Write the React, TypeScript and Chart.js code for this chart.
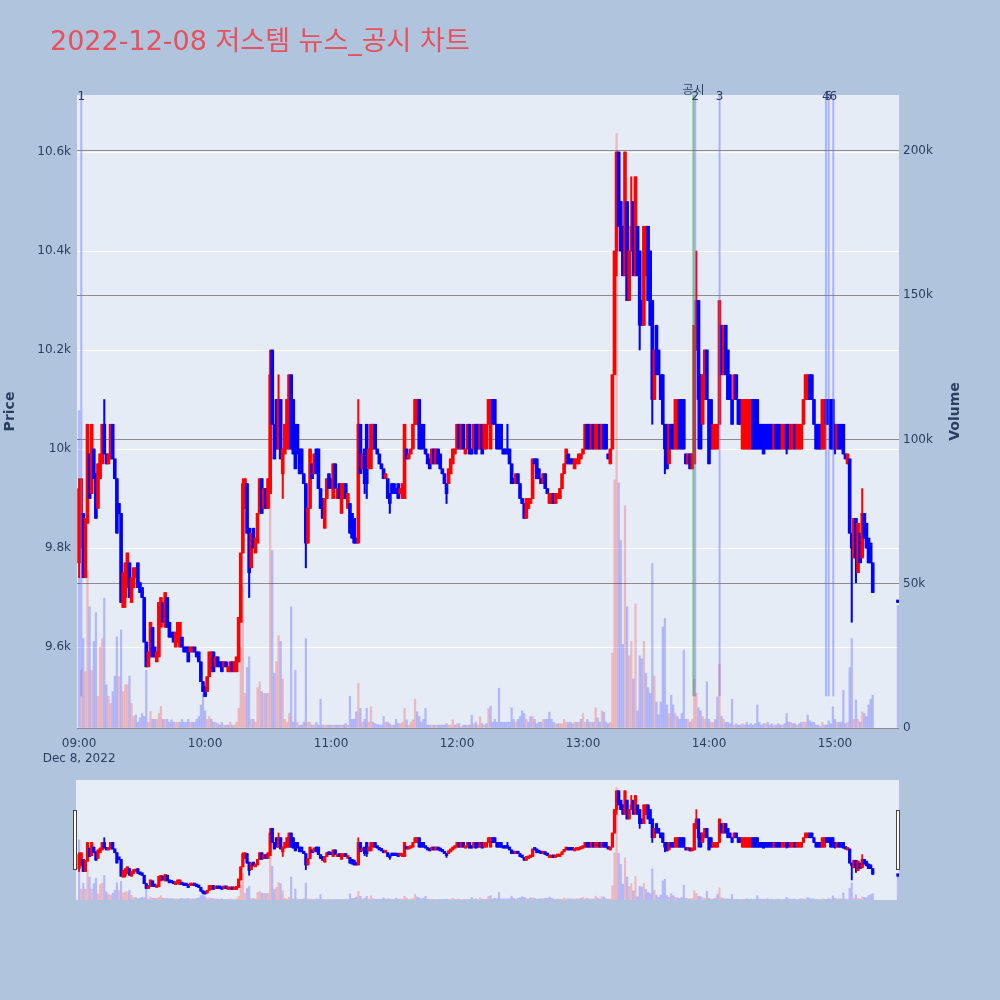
import React, { useEffect, useRef } from 'react';
import { Chart, registerables } from 'chart.js';

Chart.register(...registerables);

// ---------- data (minute 0 = 09:00) ----------
const opens: number[] = [
  9770, 9800, 9870, 9740, 9850, 9990, 9910, 10000, 9950, 9880,
  9940, 9970, 10050, 9990, 9970, 9980, 10050, 9980, 9940, 9890,
  9870, 9680, 9700, 9720, 9770, 9690, 9720, 9740, 9770, 9730,
  9720, 9700, 9610, 9560, 9580, 9640, 9600, 9570, 9580, 9640,
  9690, 9640, 9700, 9650, 9630, 9630, 9600, 9610, 9600, 9620,
  9600, 9600, 9600, 9590, 9590, 9600, 9590, 9590, 9570, 9530,
  9520, 9510, 9540, 9550, 9590, 9560, 9580, 9570, 9570, 9560,
  9570, 9550, 9550, 9570, 9550, 9550, 9570, 9650, 9790, 9880,
  9930, 9840, 9760, 9840, 9790, 9810, 9870, 9940, 9880, 9920,
  9880, 9910, 10200, 10050, 10100, 10000, 10100, 9950, 9990, 10000,
  10000, 10150, 10100, 10050, 10050, 10000, 10000, 9950, 9930, 9810,
  9880, 9970, 9950, 10000, 10000, 9920, 9900, 9840, 9900, 9950,
  9940, 9900, 9970, 9900, 9930, 9870, 9900, 9930, 9880, 9890,
  9870, 9860, 9820, 9810, 10050, 9960, 10000, 10050, 9960, 9960,
  10000, 10050, 10000, 9990, 9970, 9960, 9940, 9940, 9910, 9930,
  9930, 9920, 9930, 9910, 9900, 9900, 10000, 9980, 9990, 10000,
  10050, 10050, 10100, 10050, 10050, 10000, 9990, 9980, 9970, 10000,
  9970, 10000, 9990, 9960, 9950, 9930, 9930, 9950, 9970, 9990,
  10000, 10050, 10000, 10050, 9990, 10000, 10050, 10000, 10000, 10050,
  10050, 10000, 10050, 10000, 10000, 10050, 10000, 10100, 10100, 10050,
  10050, 10050, 10000, 10000, 10000, 10000, 9970, 9940, 9930, 9950,
  9930, 9900, 9890, 9860, 9880, 9890, 9900, 9980, 9980, 9960,
  9940, 9930, 9950, 9920, 9890, 9890, 9910, 9890, 9900, 9900,
  9920, 9950, 9970, 9990, 9980, 9980, 9960, 9970, 9970, 9980,
  9990, 10000, 10050, 10050, 10000, 10050, 10000, 10000, 10050, 10000,
  10050, 10050, 9990, 9970, 10000, 10150, 10400, 10600, 10500, 10450,
  10350, 10500, 10300, 10400, 10500, 10350, 10450, 10400, 10300, 10250,
  10350, 10450, 10400, 10300, 10100, 10250, 10200, 10150, 10150, 10050,
  10050, 9970, 10050, 10050, 10000, 10000, 10100, 10100, 10100, 9990,
  9970, 9990, 9960, 9970, 10200, 10300, 10150, 10050, 10100, 10200,
  10100, 10100, 10000, 10000, 10000, 10050, 10250, 10150, 10250, 10200,
  10150, 10100, 10100, 10150, 10100, 10100, 10000, 10000, 10000, 10000,
  10000, 10100, 10100, 10100, 10050, 10050, 10050, 10050, 10050, 10050,
  10050, 10000, 10050, 10050, 10050, 10000, 10000, 10050, 10050, 10000,
  10000, 10050, 10000, 10000, 10000, 10050, 10100, 10100, 10150, 10150,
  10100, 10050, 10050, 10050, 10000, 10000, 10100, 10100, 10100, 10100,
  10050, 10000, 10050, 10050, 10050, 9990, 9970, 9980, 9830, 9780,
  9860, 9750, 9830, 9780, 9870, 9850, 9820, 9810, 9770,
];

const closes: number[] = [
  9920, 9940, 9740, 9860, 10050, 9900, 10050, 9940, 9860, 9970,
  9990, 10050, 9990, 9970, 9990, 10050, 9980, 9940, 9830, 9870,
  9690, 9750, 9770, 9790, 9700, 9740, 9760, 9760, 9720, 9710,
  9700, 9610, 9560, 9590, 9650, 9580, 9580, 9590, 9690, 9700,
  9650, 9710, 9640, 9620, 9620, 9610, 9630, 9650, 9650, 9600,
  9590, 9590, 9570, 9600, 9600, 9590, 9580, 9570, 9530, 9510,
  9500, 9540, 9590, 9590, 9550, 9580, 9560, 9560, 9550, 9570,
  9560, 9560, 9570, 9550, 9570, 9580, 9660, 9790, 9930, 9940,
  9830, 9750, 9830, 9800, 9820, 9870, 9940, 9870, 9920, 9880,
  9940, 10150, 10050, 9980, 10000, 10100, 9980, 10000, 10050, 10100,
  10150, 10000, 9990, 9960, 9990, 9950, 9950, 9930, 9810, 9880,
  10000, 9940, 9990, 9950, 9920, 9880, 9860, 9900, 9940, 9920,
  9920, 9970, 9920, 9920, 9900, 9930, 9930, 9900, 9910, 9830,
  9820, 9810, 9810, 10050, 9950, 9990, 9930, 9930, 10000, 10050,
  10050, 10000, 9990, 9970, 9960, 9940, 9950, 9900, 9890, 9910,
  9910, 9910, 9900, 9920, 9930, 10050, 9980, 9990, 10000, 10050,
  10100, 10100, 10000, 10000, 10000, 9990, 9970, 9960, 10000, 9970,
  10000, 9970, 9960, 9950, 9930, 9910, 9960, 9980, 10000, 10000,
  10050, 10000, 10050, 10000, 10000, 10050, 9990, 9990, 10050, 9990,
  10000, 10050, 9990, 10050, 10050, 10100, 10100, 10050, 10050, 10000,
  10000, 10000, 9990, 9990, 9990, 9970, 9930, 9930, 9950, 9930,
  9900, 9890, 9860, 9900, 9900, 9900, 9980, 9970, 9940, 9940,
  9930, 9950, 9920, 9910, 9910, 9910, 9890, 9910, 9910, 9920,
  9950, 9970, 10000, 9970, 9970, 9970, 9980, 9980, 9990, 9990,
  10000, 10050, 10000, 10000, 10050, 10000, 10050, 10050, 10000, 10050,
  10000, 10000, 9980, 10000, 10150, 10400, 10600, 10450, 10400, 10350,
  10600, 10300, 10400, 10450, 10350, 10550, 10350, 10250, 10250, 10450,
  10450, 10300, 10250, 10100, 10200, 10150, 10150, 10100, 10050, 10000,
  9960, 10050, 10000, 10000, 10100, 10100, 10000, 10000, 10000, 9970,
  9990, 9960, 9990, 10250, 10300, 10100, 10000, 10150, 10200, 10100,
  9970, 10000, 10050, 10050, 10050, 10300, 10150, 10250, 10150, 10100,
  10100, 10050, 10150, 10100, 10050, 10050, 10100, 10100, 10100, 10100,
  10100, 10000, 10000, 10000, 10000, 10000, 9990, 10000, 10000, 10000,
  10000, 10050, 10000, 10000, 10000, 10050, 10050, 10000, 10000, 10050,
  10050, 10000, 10050, 10050, 10050, 10100, 10150, 10150, 10100, 10100,
  10050, 10000, 10000, 10000, 10100, 10100, 10050, 10050, 10000, 10000,
  10000, 10050, 10000, 10000, 9990, 9980, 9990, 9830, 9800, 9860,
  9780, 9850, 9770, 9870, 9820, 9800, 9770, 9770, 9710,
];

// volume in thousands of shares
const volumesK: number[] = [
  110, 20, 31, 19.5, 54.6, 42, 20, 30, 40, 11,
  28, 31, 45, 15, 11, 8.5, 12.6, 18, 31.6, 17.8,
  34, 12.6, 15, 15, 18, 8.5, 4, 4.5, 2, 3.5,
  5, 4, 20, 2, 5.7, 3, 3, 3, 5, 7.5,
  3, 3, 3, 2, 2.8, 2, 2, 2, 2, 3,
  2, 2, 3, 2, 2, 2, 3, 4, 8, 12,
  6, 3, 4, 3, 2, 2, 1.5, 1, 2, 1,
  1, 1, 2, 1, 1, 2, 6.8, 28, 49, 12,
  21, 24.7, 3, 3, 2, 14, 16, 12.6, 12, 12,
  12, 81, 61.5, 19, 23, 32, 30, 17, 3, 2,
  5, 42, 2, 20, 2, 1, 1, 2, 31, 2,
  2, 1, 1, 2, 1, 10, 1, 1, 1, 1,
  1, 1, 1, 1, 1, 1, 1, 1.6, 1, 11,
  3, 3, 5.6, 15.4, 6.8, 2, 3, 6.8, 2, 7.4,
  2, 1.5, 1.2, 1, 1, 4, 2, 2, 1.5, 1,
  1, 3, 1.5, 1.5, 2, 6.8, 2.8, 1, 2, 2.8,
  10, 5.6, 4, 2, 3, 6.8, 1, 1, 1, 1,
  1, 1, 1, 1, 1, 1.5, 1, 1, 2.8, 1,
  1.5, 1.5, 0.5, 1, 1, 1, 1, 4.5, 1.5, 2,
  1, 3.9, 1.5, 1, 1.5, 6.8, 7.6, 2, 3, 2,
  13.8, 2, 2, 2, 2, 2, 7, 3, 2, 3,
  4, 6, 5, 3, 2, 4, 4, 3, 1.5, 2,
  2, 3, 3, 3, 5.5, 3, 2, 1.5, 1.5, 1.5,
  1.5, 3, 2, 2, 2, 1.5, 2, 2, 2, 3,
  5, 2, 3, 2, 2, 2, 7, 3.5, 2, 6,
  5.5, 2, 1.5, 2, 26, 86, 206, 85, 65, 29,
  77, 42, 25, 30, 17, 43, 6, 25, 24, 30,
  19, 14, 12, 57, 18, 9, 4.6, 9, 35, 38,
  8, 5, 11.4, 8, 5, 4, 3, 5, 27, 3,
  3, 2, 3, 17, 12, 7, 6, 4, 3, 16,
  3, 2, 2, 3, 10.8, 22, 4, 3, 2, 2,
  1.5, 10, 1, 1.5, 1, 1, 1.5, 1, 2, 1,
  1.5, 1, 1.5, 8, 2, 1, 1.5, 1.5, 2, 1,
  1.5, 1, 1, 1.5, 1, 1, 1.5, 5, 2, 2,
  1.5, 1.5, 1, 1.5, 2, 2, 2, 4.5, 2.5, 2,
  2, 1, 1, 0.5, 2, 1, 1, 2.5, 1.5, 7.4,
  3, 2, 2, 2, 13, 1.5, 2, 21, 31, 3,
  9.7, 3, 2, 5.6, 5, 4, 8, 10, 11.4,
];

// wicks beyond the body (minute -> price)
const highWicks: Record<number, number> = {
  0: 9940, 12: 10100, 78: 9940, 91: 10200, 95: 10150, 133: 10100,
  204: 10050, 263: 10550, 294: 10400, 373: 9920,
};
const lowWicks: Record<number, number> = {
  0: 9740, 22: 9680, 81: 9700, 97: 9900, 108: 9760, 125: 9870, 136: 9910,
  137: 9900, 148: 9870, 175: 9890, 253: 9970, 256: 10350, 267: 10200,
  273: 10050, 279: 9950, 295: 10000, 300: 9970, 337: 9990, 360: 9990,
  368: 9650, 370: 9730,
};

// closing auction (15:30)
const auctionMinute = 390;
const auctionPrice = 9690;
const auctionVolumeK = 42.5;

// ticks
const xTickMinutes = [0, 60, 120, 180, 240, 300, 360];
const xTickLabels = ['09:00', '10:00', '11:00', '12:00', '13:00', '14:00', '15:00'];
const dateLabel = 'Dec 8, 2022';
const priceTicks = [9600, 9800, 10000, 10200, 10400, 10600];
const volumeTicksK = [0, 50, 100, 150, 200];

// events (news / disclosure) in minutes after 09:00
const newsMinutes = [1.05, 293.45, 305.05, 355.7, 357.0, 359.2];
const newsLabels = ['1', '2', '3', '4', '5', '6'];
const disclosureMinute = 292.6;
const disclosureLabel = '공시';

const titleText = '2022-12-08 저스템 뉴스_공시 차트';

// ---------- styles ----------
const PAGE_BG = '#b0c4de';
const PLOT_BG = '#e5ecf6';
const AXIS_COLOR = '#2a3f5f';
const RED = '#ff0000';
const BLUE = '#0000ff';
const VOL_UP = 'rgba(255,0,0,0.22)';
const VOL_DOWN = 'rgba(0,0,255,0.22)';
const FONT = '"DejaVu Sans", "Noto Sans CJK KR", sans-serif';
const PRICE_MIN = 9436.4;
const PRICE_MAX = 10715.2;
const VOL_MAX = 219.4;
const X_MIN = -1;
const X_MAX = 390.5;

Chart.defaults.font.family = FONT;

function buildSeries() {
  const n = opens.length;
  const o = [...opens, auctionPrice];
  const c = [...closes, auctionPrice];
  const v = [...volumesK, auctionVolumeK];
  const t = o.map((_, i) => (i < n ? i : auctionMinute));
  const hi = o.map((ov, i) => Math.max(ov, c[i], highWicks[t[i]] ?? -Infinity));
  const lo = o.map((ov, i) => Math.min(ov, c[i], lowWicks[t[i]] ?? Infinity));
  const up = o.map((ov, i) => c[i] > ov);
  const volUp = c.map((cv, i) => i > 0 && cv > c[i - 1]);
  return { t, o, c, v, hi, lo, up, volUp };
}

type Series = ReturnType<typeof buildSeries>;

function makeDatasets(s: Series, bodyW: number, wickW: number, volW: number): any[] {
  return [
    {
      type: 'bar', label: 'Volume', yAxisID: 'y1',
      data: s.t.map((x, i) => ({ x, y: s.v[i] })),
      backgroundColor: s.volUp.map((u) => (u ? VOL_UP : VOL_DOWN)),
      barThickness: volW, grouped: false, order: 3,
    },
    {
      type: 'bar', label: 'Range', yAxisID: 'y',
      data: s.t.map((x, i) => ({ x, y: [s.lo[i], s.hi[i]] })),
      backgroundColor: s.up.map((u) => (u ? RED : BLUE)),
      barThickness: wickW, grouped: false, order: 2,
    },
    {
      type: 'bar', label: 'Price', yAxisID: 'y',
      data: s.t.map((x, i) => ({ x, y: [s.o[i], s.c[i]] })),
      backgroundColor: s.up.map((u) => (u ? RED : BLUE)),
      barThickness: bodyW, minBarLength: 2.5, grouped: false, order: 1,
    },
  ];
}

const bgPlugin = {
  id: 'plotBg',
  beforeDraw(chart: any) {
    const { ctx, chartArea: a } = chart;
    ctx.save();
    ctx.fillStyle = PAGE_BG;
    ctx.fillRect(0, 0, chart.width, chart.height);
    ctx.fillStyle = PLOT_BG;
    ctx.fillRect(a.left, a.top, a.right - a.left, a.bottom - a.top);
    ctx.restore();
  },
};

const overlayPlugin = {
  id: 'overlay',
  afterDatasetsDraw(chart: any) {
    const { ctx, chartArea: a, scales } = chart;
    const yEnd = a.bottom - (a.bottom - a.top) * 0.05;
    ctx.save();
    ctx.lineWidth = 2;
    const gx = scales.x.getPixelForValue(disclosureMinute);
    ctx.strokeStyle = 'rgba(40,160,40,0.55)';
    ctx.beginPath();
    ctx.moveTo(gx, a.top);
    ctx.lineTo(gx, yEnd);
    ctx.stroke();
    newsMinutes.forEach((m) => {
      const px = scales.x.getPixelForValue(m);
      ctx.strokeStyle = 'rgba(99,110,250,0.45)';
      ctx.beginPath();
      ctx.moveTo(px, a.top);
      ctx.lineTo(px, yEnd);
      ctx.stroke();
    });
    ctx.restore();
  },
  afterDraw(chart: any) {
    const { ctx, chartArea: a, scales } = chart;
    ctx.save();
    // event labels
    ctx.fillStyle = AXIS_COLOR;
    ctx.textAlign = 'center';
    ctx.textBaseline = 'middle';
    ctx.font = `12px ${FONT}`;
    newsMinutes.forEach((m, i) => {
      ctx.fillText(newsLabels[i], scales.x.getPixelForValue(m), a.top + 2);
    });
    ctx.fillText(disclosureLabel, scales.x.getPixelForValue(disclosureMinute), a.top - 4);
    // title
    ctx.textAlign = 'left';
    ctx.textBaseline = 'alphabetic';
    ctx.fillStyle = '#e8505b';
    ctx.font = `27px ${FONT}`;
    ctx.fillText(titleText, 50, 50);
    // axis titles
    ctx.fillStyle = AXIS_COLOR;
    ctx.font = `bold 14px ${FONT}`;
    ctx.textAlign = 'center';
    ctx.textBaseline = 'middle';
    const midY = (a.top + a.bottom) / 2;
    ctx.save();
    ctx.translate(10, midY);
    ctx.rotate(-Math.PI / 2);
    ctx.fillText('Price', 0, 0);
    ctx.restore();
    ctx.save();
    ctx.translate(955, midY);
    ctx.rotate(-Math.PI / 2);
    ctx.fillText('Volume', 0, 0);
    ctx.restore();
    ctx.restore();
  },
};

const sliderPlugin = {
  id: 'sliderDecor',
  beforeDraw(chart: any) {
    const { ctx, chartArea: a } = chart;
    ctx.save();
    ctx.fillStyle = PAGE_BG;
    ctx.fillRect(0, 0, chart.width, chart.height);
    ctx.fillStyle = '#e7edf6';
    ctx.fillRect(a.left - 1, a.top, a.right - a.left + 1, a.bottom - a.top);
    ctx.restore();
  },
  afterDraw(chart: any) {
    const { ctx, chartArea: a } = chart;
    const h = (a.bottom - a.top) / 2;
    const top = a.top + h / 2;
    ctx.save();
    ctx.fillStyle = '#ffffff';
    ctx.strokeStyle = '#444444';
    ctx.lineWidth = 1;
    [a.left - 4, a.right - 3].forEach((x) => {
      ctx.fillRect(x, top, 4, h);
      ctx.strokeRect(x + 0.5, top + 0.5, 3, h - 1);
    });
    ctx.restore();
  },
};

export default function App() {
  const mainRef = useRef<HTMLCanvasElement>(null);
  const sliderRef = useRef<HTMLCanvasElement>(null);

  useEffect(() => {
    const s = buildSeries();
    const main = new Chart(mainRef.current as HTMLCanvasElement, {
      type: 'bar',
      data: { datasets: makeDatasets(s, 3, 1.4, 1.6) },
      options: {
        responsive: false,
        animation: false,
        devicePixelRatio: 1,
        events: [],
        layout: { padding: { top: 95, left: 0, right: 0, bottom: 0 } },
        plugins: { legend: { display: false }, tooltip: { enabled: false }, title: { display: false } },
        scales: {
          x: {
            type: 'linear', min: X_MIN, max: X_MAX, offset: false,
            grid: { display: false, drawTicks: false },
            border: { display: false },
            afterBuildTicks: (sc: any) => { sc.ticks = xTickMinutes.map((value) => ({ value })); },
            afterFit: (sc: any) => { sc.height = 42; },
            ticks: {
              autoSkip: false, maxRotation: 0, padding: 8, color: AXIS_COLOR,
              font: { size: 12, family: FONT, lineHeight: 1.25 },
              callback: (_v: any, idx: number) => (idx === 0 ? [xTickLabels[0], dateLabel] : xTickLabels[idx]),
            },
          },
          y: {
            position: 'left', min: PRICE_MIN, max: PRICE_MAX,
            grid: { color: '#ffffff', lineWidth: 1, drawTicks: false },
            border: { display: false },
            afterBuildTicks: (sc: any) => { sc.ticks = priceTicks.map((value) => ({ value })); },
            afterFit: (sc: any) => { sc.width = 77; },
            ticks: {
              padding: 6, color: AXIS_COLOR, font: { size: 12, family: FONT },
              callback: (v: any) => `${Number(v) / 1000}k`,
            },
          },
          y1: {
            position: 'right', min: 0, max: VOL_MAX,
            grid: { color: '#8c8c8c', lineWidth: 1, drawTicks: false },
            border: { display: false },
            afterBuildTicks: (sc: any) => { sc.ticks = volumeTicksK.map((value) => ({ value })); },
            afterFit: (sc: any) => { sc.width = 101; },
            ticks: {
              padding: 4, color: AXIS_COLOR, font: { size: 12, family: FONT },
              callback: (v: any) => (Number(v) === 0 ? '0' : `${v}k`),
            },
          },
        },
      } as any,
      plugins: [bgPlugin, overlayPlugin],
    });

    const mini = new Chart(sliderRef.current as HTMLCanvasElement, {
      type: 'bar',
      data: { datasets: makeDatasets(s, 2.6, 1.2, 1.5) },
      options: {
        responsive: false,
        animation: false,
        devicePixelRatio: 1,
        events: [],
        layout: { padding: { top: 10, left: 77, right: 101, bottom: 10 } },
        plugins: { legend: { display: false }, tooltip: { enabled: false } },
        scales: {
          x: { type: 'linear', min: X_MIN, max: X_MAX, offset: false, display: false },
          y: { min: PRICE_MIN, max: PRICE_MAX, display: false },
          y1: { min: 0, max: VOL_MAX, display: false },
        },
      } as any,
      plugins: [sliderPlugin],
    });

    return () => {
      main.destroy();
      mini.destroy();
    };
  }, []);

  return (
    <div style={{ position: 'fixed', left: 0, top: 0, width: 1000, height: 1000, background: PAGE_BG, overflow: 'hidden' }}>
      <canvas ref={mainRef} width={1000} height={770} style={{ position: 'absolute', left: 0, top: 0, width: 1000, height: 770 }} />
      <canvas ref={sliderRef} width={1000} height={140} style={{ position: 'absolute', left: 0, top: 770, width: 1000, height: 140 }} />
    </div>
  );
}
